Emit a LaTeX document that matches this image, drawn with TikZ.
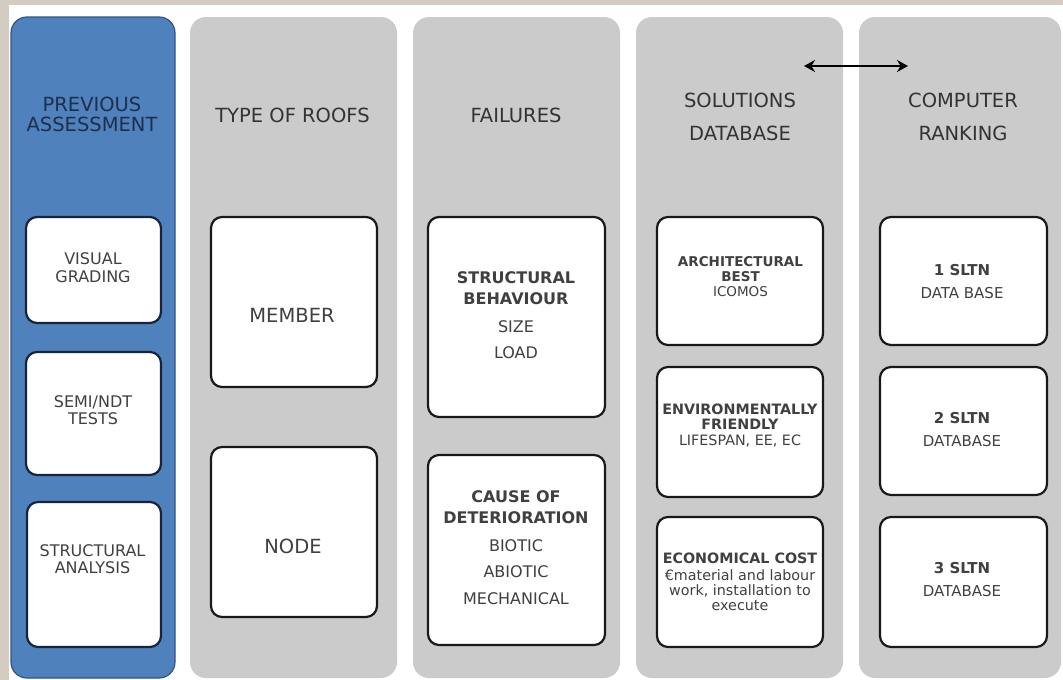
\documentclass[tikz,border=0pt]{standalone}
\usepackage{fontspec}
\setmainfont{DejaVu Sans}
\usetikzlibrary{arrows.meta}
\definecolor{beige}{HTML}{D4CCC2}
\definecolor{colblue}{HTML}{4F81BD}
\definecolor{blueedge}{HTML}{2F5585}
\definecolor{colgray}{HTML}{CBCBCB}
\definecolor{navytext}{HTML}{1E2F4D}
\definecolor{headtext}{HTML}{333333}
\definecolor{boxtext}{HTML}{404040}
\definecolor{navyedge}{HTML}{15253D}
\begin{document}
\begin{tikzpicture}[x=1pt,y=-1pt,
  column/.style={rounded corners=16pt, fill=colgray, draw=none, inner sep=0pt},
  bluecolumn/.style={column, fill=colblue, draw=blueedge, line width=1.2pt},
  card/.style={rounded corners=11pt, fill=white, draw=black!90, line width=2.2pt, inner sep=0pt},
  bluecard/.style={card, draw=navyedge},
  hdr/.style={align=center, text=headtext, inner sep=0pt, font=\fontsize{19.5}{20}\selectfont},
  txt/.style={align=center, text=boxtext, inner sep=0pt},
  link/.style={<->, line width=2.8pt, >={Stealth[length=11pt,width=12pt]}}
]
\useasboundingbox (0,0) rectangle (1063,680);
\fill[beige] (0,0) rectangle (1063,680);
\fill[white] (9,5) rectangle (1063,680);

% columns
\node[bluecolumn, minimum width=164pt, minimum height=661pt] (c1) at (93,347.5) {};
\node[column, minimum width=207pt, minimum height=661pt] (c2) at (293.5,347.5) {};
\node[column, minimum width=207pt, minimum height=661pt] (c3) at (516.5,347.5) {};
\node[column, minimum width=207pt, minimum height=661pt] (c4) at (739.5,347.5) {};
\node[column, minimum width=202pt, minimum height=661pt] (c5) at (960,347.5) {};

% headers
\node[hdr, text=navytext] (h1) at (92,114) {PREVIOUS\\ASSESSMENT};
\node[hdr] (h2) at (292.5,115) {TYPE OF ROOFS};
\node[hdr] (h3) at (516,115) {FAILURES};
\node[hdr, font=\fontsize{19.5}{33}\selectfont] (h4) at (740,116.5) {SOLUTIONS\\DATABASE};
\node[hdr, font=\fontsize{19.5}{33}\selectfont] (h5) at (963,116.5) {COMPUTER\\RANKING};

% column 1 cards
\node[bluecard, minimum width=135pt, minimum height=106pt] (b11) at (93.5,270) {};
\node[bluecard, minimum width=135pt, minimum height=123pt] (b12) at (93.5,413.5) {};
\node[bluecard, minimum width=134pt, minimum height=145pt] (b13) at (94,574.5) {};
\node[txt, font=\fontsize{16}{17.5}\selectfont] (t11) at (93,267.5) {VISUAL\\GRADING};
\node[txt, font=\fontsize{16}{17.5}\selectfont] (t12) at (93,410) {SEMI/NDT\\TESTS};
\node[txt, font=\fontsize{16}{17.5}\selectfont] (t13) at (92.5,559) {STRUCTURAL\\ANALYSIS};

% column 2 cards
\node[card, minimum width=166pt, minimum height=170pt] (b21) at (294,302) {};
\node[card, minimum width=166pt, minimum height=170pt] (b22) at (294,532) {};
\node[txt, font=\fontsize{19.5}{20}\selectfont] (t21) at (292,315) {MEMBER};
\node[txt, font=\fontsize{19.5}{20}\selectfont] (t22) at (293,546) {NODE};

% column 3 cards
\node[card, minimum width=177pt, minimum height=200pt] (b31) at (516.5,317) {};
\node[card, minimum width=177pt, minimum height=190pt] (b32) at (516.5,550) {};
\node[txt, font=\fontsize{16}{21}\selectfont] (t31) at (516,315.5)
  {\textbf{STRUCTURAL}\\\textbf{BEHAVIOUR}\\[7pt]SIZE\\[5pt]LOAD};
\node[txt, font=\fontsize{16}{21}\selectfont] (t32) at (516,548)
  {\textbf{CAUSE OF}\\\textbf{DETERIORATION}\\[7pt]BIOTIC\\[5pt]ABIOTIC\\[6pt]MECHANICAL};

% column 4 cards
\node[card, minimum width=166pt, minimum height=128pt] (b41) at (740,281) {};
\node[card, minimum width=166pt, minimum height=130pt] (b42) at (740,432) {};
\node[card, minimum width=166pt, minimum height=130pt] (b43) at (740,582) {};
\node[txt, font=\fontsize{13.5}{15}\selectfont] (t41) at (740.5,277)
  {\textbf{ARCHITECTURAL}\\\textbf{BEST}\\ICOMOS};
\node[txt, font=\fontsize{14.3}{15}\selectfont] (t42) at (740,426)
  {\textbf{ENVIRONMENTALLY}\\\textbf{FRIENDLY}\\[1pt]LIFESPAN, EE, EC};
\node[txt, font=\fontsize{14.3}{15}\selectfont] (t43) at (740,582)
  {\textbf{ECONOMICAL COST}\\[2pt]€material and labour\\work, installation to\\execute};

% column 5 cards
\node[card, minimum width=167pt, minimum height=128pt] (b51) at (963.5,281) {};
\node[card, minimum width=167pt, minimum height=128pt] (b52) at (963.5,431) {};
\node[card, minimum width=167pt, minimum height=130pt] (b53) at (963.5,582) {};
\node[txt, font=\fontsize{15}{15}\selectfont] (t51) at (962,281.5) {\textbf{1 SLTN}\\[8pt]DATA BASE};
\node[txt, font=\fontsize{15}{15}\selectfont] (t52) at (962,430) {\textbf{2 SLTN}\\[8pt]DATABASE};
\node[txt, font=\fontsize{15}{15}\selectfont] (t53) at (962,580) {\textbf{3 SLTN}\\[8pt]DATABASE};

% link between solutions database and computer ranking
\coordinate (al) at (804,66);
\coordinate (ar) at (908,66);
\draw[link] (al) -- (ar);
\end{tikzpicture}
\end{document}
